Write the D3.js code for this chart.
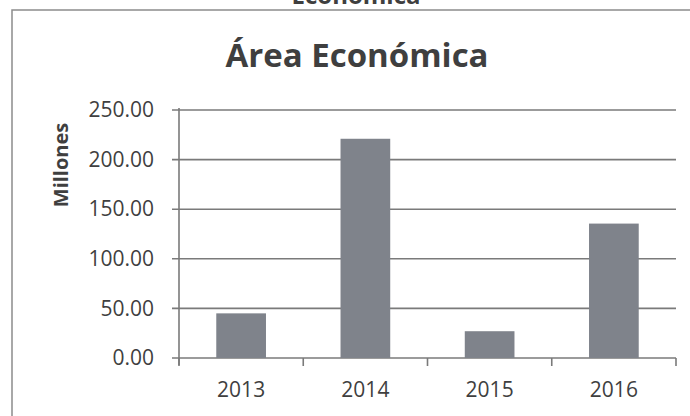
<!DOCTYPE html>
<html>
<head>
<meta charset="utf-8">
<script src="https://cdn.jsdelivr.net/npm/d3@7"></script>
<style>
  body { margin: 0; background: #fff; }
  text { font-family: "Open Sans", sans-serif; fill: #3f3f3f; }
</style>
</head>
<body>
<div id="chart"></div>
<script>
// data (millones)
var years = ["2013", "2014", "2015", "2016"];
var values = [45, 221, 27, 135.5];
var yTicks = [0, 50, 100, 150, 200, 250];
var title = "Área Económica";
var yLabel = "Millones";

const w = 690;
const h = 416;
const plotLeft = 179, plotRight = 676, plotTop = 110, plotBottom = 358;
const lineColor = "#7a7a7a";

const svg = d3.select("#chart")
              .append("svg")
              .attr("width", w)
              .attr("height", h);

// frame of the scanned chart (goes off the page on right / bottom)
svg.append("rect")
   .attr("x", 12).attr("y", 10)
   .attr("width", 720).attr("height", 440)
   .attr("fill", "none")
   .attr("stroke", "#8c8c8c")
   .attr("stroke-width", 1.5);

// caption cut off at the top of the scan
svg.append("text")
   .attr("x", 356).attr("y", 4)
   .style("font-size", "24px")
   .style("font-weight", "bold")
   .style("text-anchor", "middle")
   .text("Económica");

var xScale = d3.scaleBand()
  .domain(years)
  .range([plotLeft, plotRight])
  .paddingInner(0.6)
  .paddingOuter(0.3);

var yScale = d3.scaleLinear()
  .domain([0, 250])
  .range([plotBottom, plotTop]);

// grid lines with the little outside ticks
svg.append("g")
   .selectAll("line")
   .data(yTicks)
   .enter()
   .append("line")
   .attr("x1", plotLeft - 7)
   .attr("x2", plotRight)
   .attr("y1", d => yScale(d))
   .attr("y2", d => yScale(d))
   .attr("stroke", lineColor)
   .attr("stroke-width", 1.6);

// bars
svg.selectAll("rect.bar")
  .data(years)
  .enter()
  .append("rect")
  .attr("class", "bar")
  .attr("x", d => xScale(d))
  .attr("y", (d, i) => yScale(values[i]))
  .attr("width", xScale.bandwidth())
  .attr("height", (d, i) => plotBottom - yScale(values[i]))
  .attr("fill", "#7f838b");

// y axis
var yAxis = d3.axisLeft(yScale)
  .tickValues(yTicks)
  .tickFormat(d3.format(".2f"))
  .tickSize(0)
  .tickPadding(25);

var gy = svg.append("g")
   .attr("transform", "translate(" + plotLeft + ",0)")
   .call(yAxis);
gy.select(".domain").remove();
gy.selectAll("text")
  .style("font-size", "21px")
  .style("fill", "#3f3f3f")
  .style("font-family", "'Open Sans', sans-serif");

svg.append("line")
   .attr("x1", plotLeft).attr("x2", plotLeft)
   .attr("y1", plotTop - 2).attr("y2", plotBottom + 7)
   .attr("stroke", lineColor)
   .attr("stroke-width", 1.6);

// x axis
var xAxis = d3.axisBottom(xScale).tickSize(0).tickPadding(24);
var gx = svg.append("g")
   .attr("transform", "translate(0," + plotBottom + ")")
   .call(xAxis);
gx.select(".domain").remove();
gx.selectAll("text")
  .style("font-size", "21px")
  .style("fill", "#3f3f3f")
  .style("font-family", "'Open Sans', sans-serif");

// category boundary ticks
var step = xScale.step();
var bounds = years.map(d => xScale(d) - step * xScale.paddingInner() / 2);
bounds.push(plotRight);
bounds[0] = plotLeft;
svg.append("g")
   .selectAll("line")
   .data(bounds)
   .enter()
   .append("line")
   .attr("x1", d => d).attr("x2", d => d)
   .attr("y1", plotBottom).attr("y2", plotBottom + 8)
   .attr("stroke", lineColor)
   .attr("stroke-width", 1.6);

// y label
svg.append("text")
   .attr("transform", "translate(68,165) rotate(-90)")
   .style("font-size", "20px")
   .style("font-weight", "bold")
   .style("text-anchor", "middle")
   .text(yLabel);

// title
svg.append("text")
   .attr("x", 357)
   .attr("y", 67)
   .style("font-size", "33px")
   .style("font-weight", "bold")
   .style("text-anchor", "middle")
   .text(title);
</script>
</body>
</html>
